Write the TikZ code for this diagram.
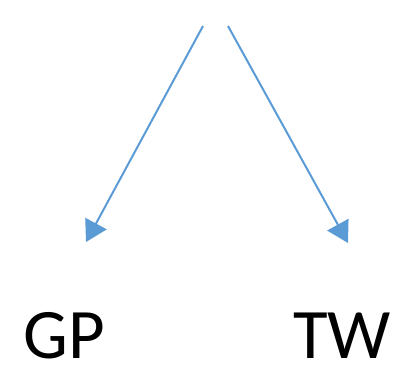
\documentclass[tikz,border=0pt]{standalone}
\usepackage{fontspec}
\setmainfont{Carlito}
\usetikzlibrary{arrows.meta}
\definecolor{arrowblue}{RGB}{91,155,213}
\begin{document}
\begin{tikzpicture}[x=1pt,y=-1pt,
  link/.style={draw=arrowblue,line width=2pt,-{Triangle[length=21pt,width=24pt]}},
  lbl/.style={inner sep=0pt,anchor=base,font=\fontsize{71}{80}\selectfont}]
\useasboundingbox (0,0) rectangle (398,381);
\coordinate (s1) at (203,26);
\coordinate (s2) at (228,26);
\coordinate (t1) at (86,242);
\coordinate (t2) at (348,243);
\node[lbl] (gp) at (64,358) {GP};
\node[lbl] (tw) at (342,358) {TW};
\draw[link] (s1) -- (t1);
\draw[link] (s2) -- (t2);
\end{tikzpicture}
\end{document}
